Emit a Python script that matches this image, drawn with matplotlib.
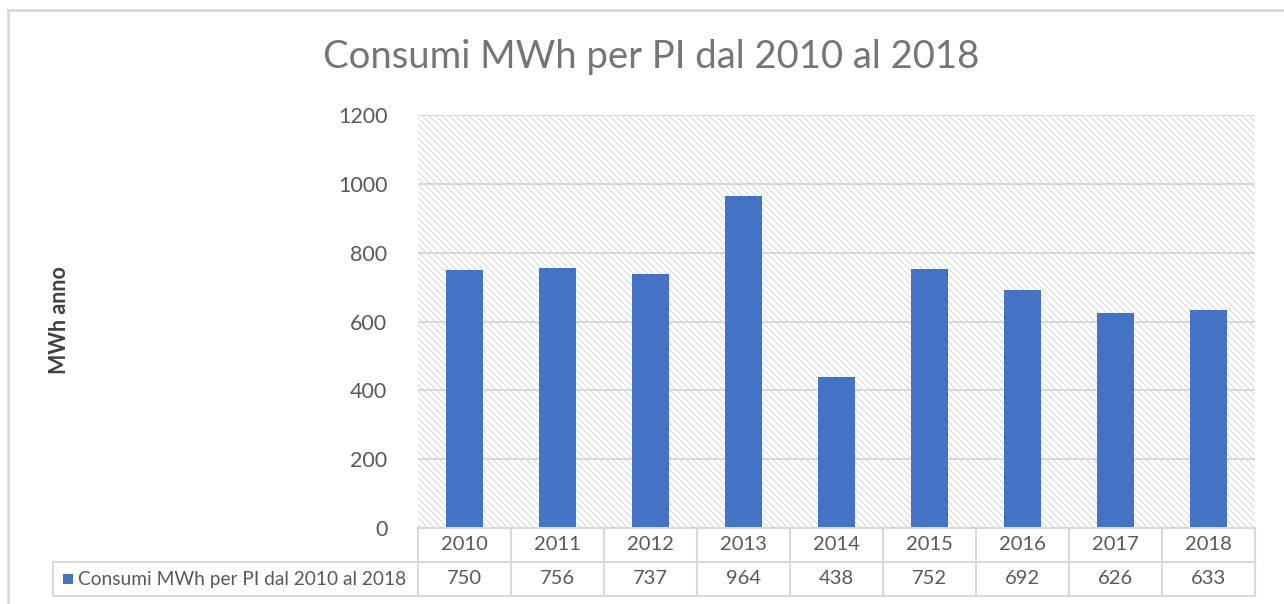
import matplotlib.pyplot as plt
from matplotlib.lines import Line2D
from matplotlib.patches import Rectangle

# dati
anni = ['2010', '2011', '2012', '2013', '2014', '2015', '2016', '2017', '2018']
consumi = [750, 756, 737, 964, 438, 752, 692, 626, 633]
serie = 'Consumi MWh per PI dal 2010 al 2018'

plt.rcParams['font.family'] = ['Lato', 'DejaVu Sans']
plt.rcParams['hatch.linewidth'] = 0.9

W, H = 1284, 604
fig = plt.figure(figsize=(W / 100, H / 100), dpi=100)
ax = fig.add_axes([418 / W, 1 - 528 / H, (1255 - 418) / W, (528 - 115) / H])

# sfondo tratteggiato
ax.patch.set_facecolor('white')
ax.add_patch(Rectangle((0, 0), 1, 1, transform=ax.transAxes, facecolor='white',
                       edgecolor='#dcdcdc', linewidth=0, hatch='\\\\\\\\\\', zorder=0))

x = range(len(anni))
ax.bar(x, consumi, width=0.4, color='#4472C4', zorder=3)

ax.set_xlim(-0.5, len(anni) - 0.5)
ax.set_ylim(0, 1200)
ax.set_yticks(range(0, 1201, 200))
ax.yaxis.grid(True, color='#d9d9d9', linewidth=1.5, zorder=1)
ax.set_axisbelow(True)
ax.tick_params(axis='y', length=0, pad=22, labelsize=15.5, labelcolor='#595959')
ax.set_xticks([])
for s in ax.spines.values():
    s.set_visible(False)

fig.text(0.5 * (323 + 980) / W, 1 - 57 / H, serie, ha='center', va='center',
         fontsize=27.5, color='#757575')
fig.text(60 / W, 1 - 320 / H, 'MWh anno', rotation=90, ha='center', va='center',
         fontsize=15.5, fontweight='bold', color='#404040')

# tabella dati sotto l'asse
row_top, row_mid, row_bot = 528, 562, 596
tl = '#d9d9d9'
n = len(anni)
x_left = 418 / W
x_right = 1255 / W
col_w = (x_right - x_left) / n

def fy(py):
    return 1 - py / H

lines = [
    ((x_left, x_right), (fy(row_top), fy(row_top))),
    ((53 / W, x_right), (fy(row_mid), fy(row_mid))),
    ((53 / W, x_right), (fy(row_bot), fy(row_bot))),
    ((53 / W, 53 / W), (fy(row_mid), fy(row_bot))),
]
for i in range(n + 1):
    xx = x_left + i * col_w
    lines.append(((xx, xx), (fy(row_top), fy(row_bot))))
for xs, ys in lines:
    fig.add_artist(Line2D(xs, ys, color=tl, linewidth=1.5))

for i, (a, v) in enumerate(zip(anni, consumi)):
    cx = x_left + (i + 0.5) * col_w
    fig.text(cx, fy((row_top + row_mid) / 2), a, ha='center', va='center',
             fontsize=14.5, color='#595959')
    fig.text(cx, fy((row_mid + row_bot) / 2), str(v), ha='center', va='center',
             fontsize=14.5, color='#595959')

fig.add_artist(Rectangle((63 / W, fy(584)), 10 / W, 10 / H, facecolor='#4472C4',
                         edgecolor='none'))
fig.text(78 / W, fy((row_mid + row_bot) / 2), serie, ha='left', va='center',
         fontsize=13.8, color='#595959')

# bordo esterno
fig.add_artist(Line2D([8 / W, 8 / W], [0, fy(10)], color='#d9d9d9', linewidth=2))
fig.add_artist(Line2D([8 / W, 1], [fy(10), fy(10)], color='#d9d9d9', linewidth=2))

fig.savefig('out.png', dpi=100)
